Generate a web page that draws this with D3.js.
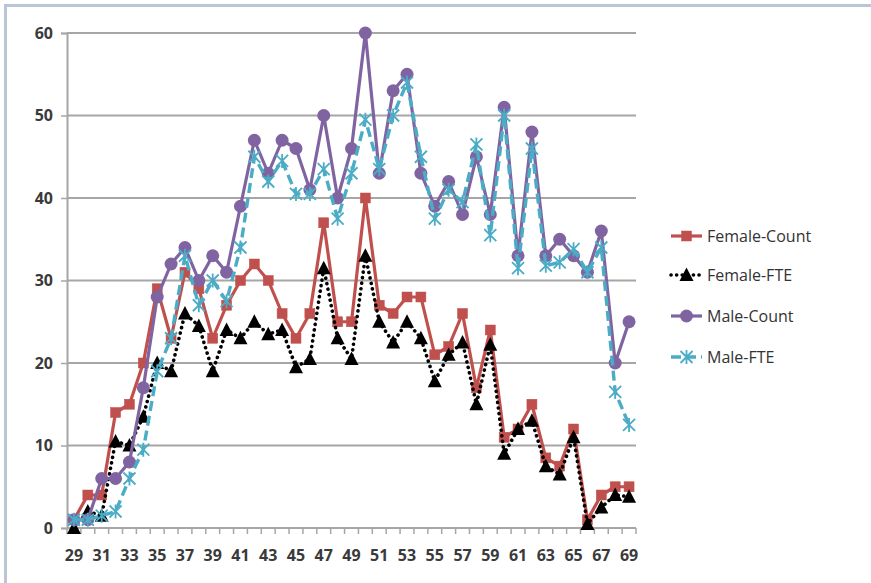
<!DOCTYPE html>
<html>
<head>
<meta charset="utf-8">
<script src="https://cdn.jsdelivr.net/npm/d3@7"></script>
<style>
  html, body { margin: 0; padding: 0; background: #fff; }
  svg { display: block; font-family: "Open Sans", "Liberation Sans", sans-serif; }
</style>
</head>
<body>
<svg id="chart" width="871" height="583"></svg>
<script>
// Ages on the category axis
const ages = d3.range(29, 70);

// Headcount and FTE by age
const femaleCount = [1, 4, 4, 14, 15, 20, 29, 23, 31, 29, 23, 27, 30, 32, 30, 26, 23, 26, 37, 25, 25, 40, 27, 26, 28, 28, 21, 22, 26, 17, 24, 11, 12, 15, 8.5, 7.5, 12, 1, 4, 5, 5];
const femaleFTE   = [0, 2, 1.5, 10.5, 10, 13.5, 20, 19, 26, 24.5, 19, 24, 23, 25, 23.5, 24, 19.5, 20.5, 31.5, 23, 20.5, 33, 25, 22.5, 25, 23, 17.8, 21, 22.5, 15, 22.2, 9, 12, 13, 7.5, 6.5, 11, 0.5, 2.5, 4, 3.8];
const maleCount   = [1, 1, 6, 6, 8, 17, 28, 32, 34, 30, 33, 31, 39, 47, 43, 47, 46, 41, 50, 40, 46, 60, 43, 53, 55, 43, 39, 42, 38, 45, 38, 51, 33, 48, 33, 35, 33, 31, 36, 20, 25];
const maleFTE     = [1, 1, 1.5, 2, 6, 9.5, 19, 23, 33, 27, 30, 27.5, 34, 45, 42, 44.5, 40.5, 40.5, 43.5, 37.5, 43, 49.5, 43.5, 50, 54, 45, 37.5, 41, 39.5, 46.5, 35.5, 50, 31.5, 46, 31.8, 32.2, 33.8, 31, 34, 16.5, 12.5];

// Value axis ticks and the labelled ages
const yTicks = [0, 10, 20, 30, 40, 50, 60];
const xLabels = d3.range(29, 70, 2);

const seriesNames = ["Female-Count", "Female-FTE", "Male-Count", "Male-FTE"];
const seriesValues = [femaleCount, femaleFTE, maleCount, maleFTE];

const styles = {
  "Female-Count": { color: "#c0504d", width: 3.2, dash: null, cap: "butt", marker: "square" },
  "Female-FTE":   { color: "#000000", width: 3.6, dash: "0.1 5.5", cap: "round", marker: "triangle" },
  "Male-Count":   { color: "#8064a2", width: 3.2, dash: null, cap: "butt", marker: "circle" },
  "Male-FTE":     { color: "#4bacc6", width: 3.4, dash: "10 5", cap: "butt", marker: "asterisk" }
};

const svg = d3.select("#chart");

// Outer chart frame
svg.append("rect")
  .attr("x", 5.5).attr("y", 5.5)
  .attr("width", 880).attr("height", 600)
  .attr("fill", "#fff")
  .attr("stroke", "#b9c6d6").attr("stroke-width", 3);

const plot = { left: 67, right: 636, top: 33, bottom: 528 };

const x = d3.scaleBand()
  .domain(ages)
  .range([plot.left, plot.right])
  .paddingInner(0).paddingOuter(0);

const y = d3.scaleLinear()
  .domain([0, 60])
  .range([plot.bottom, plot.top]);

const cx = a => x(a) + x.bandwidth() / 2;

// Horizontal gridlines
svg.append("g")
  .selectAll("line")
  .data(yTicks.filter(t => t > 0))
  .join("line")
  .attr("x1", plot.left).attr("x2", plot.right)
  .attr("y1", d => y(d)).attr("y2", d => y(d))
  .attr("stroke", "#a6a6a6").attr("stroke-width", 2);

// Value axis
const yAxis = svg.append("g")
  .attr("transform", `translate(${plot.left},0)`)
  .call(d3.axisLeft(y).tickValues(yTicks).tickSize(6).tickPadding(8));
yAxis.select(".domain").attr("stroke", "#a6a6a6").attr("stroke-width", 2);
yAxis.selectAll(".tick line").attr("stroke", "#a6a6a6").attr("stroke-width", 1.5);
yAxis.selectAll(".tick text")
  .attr("font-size", 16).attr("font-weight", 700).attr("fill", "#3a3a3a")
  .attr("font-family", "'Open Sans', sans-serif");

// Category axis: ticks on category boundaries, every other age labelled
const xAxisG = svg.append("g").attr("transform", `translate(0,${plot.bottom})`);
xAxisG.append("line")
  .attr("x1", plot.left).attr("x2", plot.right)
  .attr("stroke", "#a6a6a6").attr("stroke-width", 2);
xAxisG.selectAll("line.tk")
  .data(ages.concat([ages[ages.length - 1] + 1]))
  .join("line")
  .attr("class", "tk")
  .attr("x1", (d, i) => plot.left + i * x.bandwidth())
  .attr("x2", (d, i) => plot.left + i * x.bandwidth())
  .attr("y1", 0).attr("y2", 6)
  .attr("stroke", "#a6a6a6").attr("stroke-width", 1.5);
xAxisG.selectAll("text")
  .data(xLabels)
  .join("text")
  .attr("x", d => cx(d))
  .attr("y", 33)
  .attr("text-anchor", "middle")
  .attr("font-size", 16).attr("font-weight", 700).attr("fill", "#3a3a3a")
  .text(d => d);

// Marker shapes
function drawMarker(g, kind, color) {
  if (kind === "square") {
    g.append("rect").attr("x", -5).attr("y", -5).attr("width", 10).attr("height", 10)
      .attr("fill", color).attr("stroke", color).attr("stroke-width", 0.5);
  } else if (kind === "circle") {
    g.append("circle").attr("r", 6.5).attr("fill", color);
  } else if (kind === "triangle") {
    g.append("path").attr("d", "M0,-7.5 L7,6 L-7,6 Z").attr("fill", color);
  } else if (kind === "asterisk") {
    const s = 6;
    g.append("path")
      .attr("d", `M${-s},${-s}L${s},${s}M${-s},${s}L${s},${-s}M0,${-s - 1}L0,${s + 1}`)
      .attr("stroke", color).attr("stroke-width", 1.8).attr("fill", "none");
  }
}

// Series lines and markers
seriesNames.forEach((name, si) => {
  const st = styles[name];
  const vals = seriesValues[si];
  const pts = ages.map((a, i) => [cx(a), y(vals[i])]);
  const g = svg.append("g");
  g.append("path")
    .attr("d", d3.line()(pts))
    .attr("fill", "none")
    .attr("stroke", st.color)
    .attr("stroke-width", st.width)
    .attr("stroke-linejoin", "round")
    .attr("stroke-linecap", st.cap)
    .attr("stroke-dasharray", st.dash);
  pts.forEach(p => {
    const m = g.append("g").attr("transform", `translate(${p[0]},${p[1]})`);
    drawMarker(m, st.marker, st.color);
  });
});

// Legend
const legend = svg.append("g");
const legendY = [236, 275, 316, 357];
seriesNames.forEach((name, i) => {
  const st = styles[name];
  const row = legend.append("g").attr("transform", `translate(671,${legendY[i]})`);
  row.append("line")
    .attr("x1", 0).attr("x2", 31)
    .attr("stroke", st.color).attr("stroke-width", st.width)
    .attr("stroke-linecap", st.cap)
    .attr("stroke-dasharray", st.dash);
  const m = row.append("g").attr("transform", "translate(15.5,0)");
  drawMarker(m, st.marker, st.color);
  row.append("text")
    .attr("x", 36).attr("y", 0).attr("dy", "0.35em")
    .attr("font-size", 16).attr("fill", "#333")
    .text(name);
});
</script>
</body>
</html>
